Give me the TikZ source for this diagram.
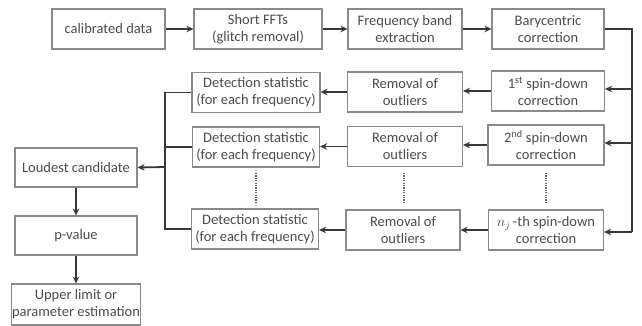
\documentclass[tikz,border=0pt]{standalone}
\usepackage{fontspec}
\setmainfont{Carlito}
\usetikzlibrary{arrows.meta}
\definecolor{boxgray}{HTML}{8A8A8A}
\definecolor{dotgray}{HTML}{6A6A6A}
\definecolor{lineclr}{HTML}{383838}
\definecolor{txtgray}{HTML}{4C4C4C}
\begin{document}
\begin{tikzpicture}[x=1pt,y=-1pt,
  box/.style={draw=boxgray, line width=1.1pt, fill=white, minimum height=40pt,
    align=center, text=txtgray, font=\fontsize{14.5}{17}\selectfont, inner sep=1pt},
  conn/.style={draw=lineclr, line width=1.8pt, -{Stealth[length=7pt,width=6.5pt]}},
  plain/.style={draw=lineclr, line width=1.8pt},
  dots/.style={draw=dotgray, line width=1.6pt, dash pattern=on 1.2pt off 1.2pt}]
\useasboundingbox[fill=white] (0,0) rectangle (642,326);

% top row
\node[box, minimum width=113pt] (cal)  at (108.5,29) {calibrated data};
\node[box, minimum width=128pt] (fft)  at (258,29) {Short FFTs\\(glitch removal)};
\node[box, minimum width=114pt] (band) at (405,29) {Frequency band\\extraction};
\node[box, minimum width=112pt] (bary) at (548,29) {Barycentric\\correction};

% row 2
\node[box, minimum width=113pt] (sa) at (548,91) {1\textsuperscript{st} spin-down\\correction};
\node[box, minimum width=115pt] (ra) at (405,92) {Removal of\\outliers};
\node[box, minimum width=128pt] (da) at (256,92.5) {Detection statistic\\(for each frequency)};

% row 3
\node[box, minimum width=116pt] (sb) at (546,145) {2\textsuperscript{nd} spin-down\\correction};
\node[box, minimum width=115pt] (rb) at (405,146.5) {Removal of\\outliers};
\node[box, minimum width=127pt] (db) at (256,147) {Detection statistic\\(for each frequency)};

% row 4
\node[box, minimum width=115pt] (sn) at (546,230) {$n_j$\,-th spin-down\\correction};
\node[box, minimum width=114pt] (rn) at (403,230) {Removal of\\outliers};
\node[box, minimum width=127pt] (dn) at (255,229) {Detection statistic\\(for each frequency)};

% left column
\node[box, minimum width=122pt, minimum height=39pt] (loud) at (76,167.5) {Loudest candidate};
\node[box, minimum width=122pt, minimum height=39pt] (pv)   at (76,235.5) {p-value};
\node[box, minimum width=122pt, minimum height=41pt] (up)   at (76,304.5) {Upper limit or\\parameter estimation};

% row arrows (drawn as edges)
\path (sa.west) edge[conn] (sa.west -| ra.east);
\path (ra.west) edge[conn] (ra.west -| da.east);
\path (sb.west) edge[conn] (sb.west -| rb.east);
\path (rb.west) edge[conn] (rb.west -| db.east);
\path (sn.west) edge[conn] (sn.west -| rn.east);
\path (rn.west) edge[conn] (rn.west -| dn.east);

% top row arrows
\draw[conn] (cal.east) -- (fft.west);
\draw[conn] (fft.east) -- (band.west);
\draw[conn] (band.east) -- (bary.west);

% right trunk
\coordinate (rtop) at (632,29);
\coordinate (rbot) at (632,232);
\coordinate (rya) at (632,89);
\coordinate (ryb) at (632,143);
\draw[plain] (bary.east) -- (rtop) -- (rbot);
\draw[conn] (rya) -- (rya -| sa.east);
\draw[conn] (ryb) -- (ryb -| sb.east);
\draw[conn] (rbot) -- (rbot -| sn.east);

% left trunk
\coordinate (lt) at (165,167);
\coordinate (lya) at (165,92.5);
\coordinate (lyb) at (165,147);
\coordinate (lyn) at (165,229);
\draw[plain] (da.west) -- (lya) -- (lyn) -- (dn.west);
\draw[plain] (db.west) -- (lyb);
\draw[conn] (lt) -- (loud.east);

% left column arrows
\draw[conn] (loud.south) -- (pv.north);
\draw[conn] (pv.south) -- (up.north);

% dotted continuations
\coordinate (dd1) at (256,173); \coordinate (dd2) at (256,202);
\coordinate (rd1) at (404,173); \coordinate (rd2) at (404,202);
\coordinate (sd1) at (546,173); \coordinate (sd2) at (546,202);
\draw[dots] (dd1) -- (dd2);
\draw[dots] (rd1) -- (rd2);
\draw[dots] (sd1) -- (sd2);
\end{tikzpicture}
\end{document}
